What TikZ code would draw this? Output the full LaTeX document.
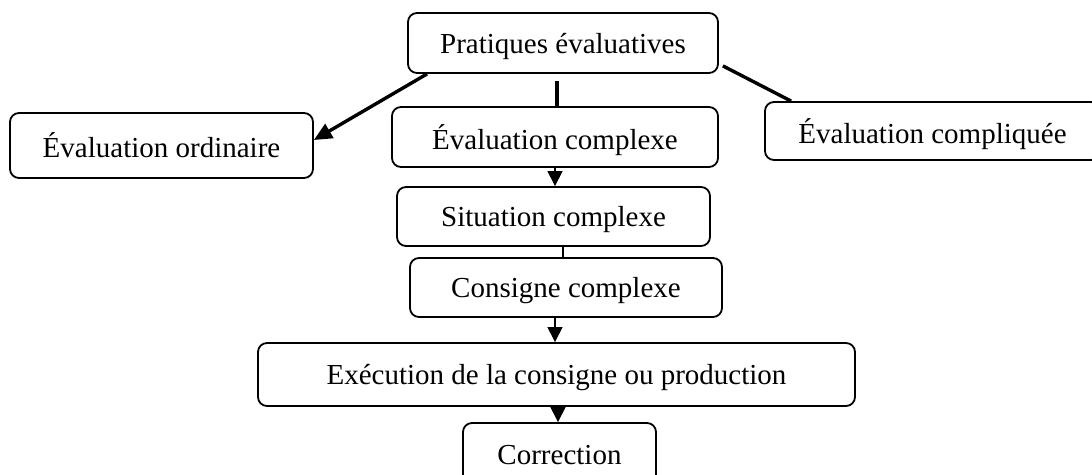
\documentclass[tikz,border=0pt]{standalone}
\usepackage{fontspec}
\setmainfont{Liberation Serif}
\usetikzlibrary{arrows.meta,calc}
\begin{document}
\begin{tikzpicture}[x=1pt,y=-1pt,
  box/.style={draw,line width=1.8pt,rounded corners=9pt,inner sep=0pt,
    font=\fontsize{29}{34}\selectfont,text depth=0pt},
  thickline/.style={line width=3.4pt},
  thinline/.style={line width=1.1pt},
  bighead/.style={-{Triangle[length=18pt,width=16pt]}},
  smallhead/.style={-{Triangle[length=15pt,width=15pt]}}]
\clip (0,0) rectangle (1092,474);
\node[box,minimum width=310pt,minimum height=60pt] (prat) at (563,43) {Pratiques évaluatives};
\node[box,minimum width=303pt,minimum height=65pt] (ord) at (161.5,145.5) {Évaluation ordinaire};
\node[box,minimum width=326pt,minimum height=60pt] (cplx) at (555,137) {Évaluation complexe};
\node[box,minimum width=335pt,minimum height=58pt] (cmpq) at (932.5,131) {Évaluation compliquée};
\node[box,minimum width=313pt,minimum height=59pt] (sit) at (553.5,216.5) {Situation complexe};
\node[box,minimum width=312pt,minimum height=59pt] (cons) at (566,287.5) {Consigne complexe};
\node[box,minimum width=597pt,minimum height=63pt] (exec) at (556.5,374.5) {Exécution de la consigne ou production};
\node[box,minimum width=193pt,minimum height=64pt] (corr) at (559.5,455) {Correction};
% connectors
\coordinate (a1) at ($(prat.south west)+(20,0)$);
\coordinate (a2) at ($(ord.east)+(0,-5.5)$);
\draw[thickline,bighead] (a1) -- (a2);
\coordinate (m1) at ($(prat.south)+(-6,7)$);
\draw[thickline] (m1) -- (m1 |- cplx.north);
\coordinate (r1) at ($(prat.south east)+(4,-8)$);
\coordinate (r2) at ($(cmpq.north west)+(27,0)$);
\draw[thickline] (r1) -- (r2);
\draw[thinline,smallhead] (cplx.south) -- (cplx.south |- sit.north);
\coordinate (s1) at ($(sit.south)+(9.5,0)$);
\draw[thinline] (s1) -- (s1 |- cons.north);
\coordinate (c1) at ($(cons.south)+(-11,0)$);
\draw[thinline,smallhead] (c1) -- (c1 |- exec.north);
\coordinate (e1) at ($(exec.south)+(1.5,0)$);
\draw[thinline,smallhead] (e1) -- (e1 |- corr.north);
\end{tikzpicture}
\end{document}
